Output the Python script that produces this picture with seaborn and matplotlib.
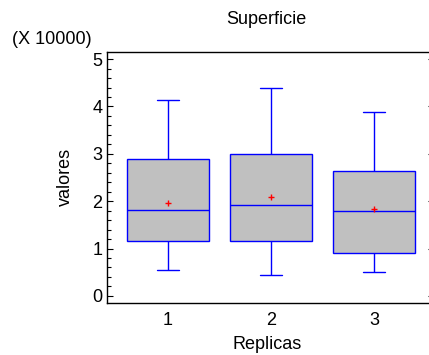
import numpy as np
import pandas as pd
import seaborn as sb
from matplotlib import pyplot as plt
from matplotlib.ticker import MultipleLocator, FuncFormatter

replicas = ['1', '2', '3']
lows = [5550, 4400, 5100]
q1s = [11600, 11500, 9150]
medians = [18100, 19200, 17900]
q3s = [28900, 30000, 26400]
highs = [41400, 43900, 38900]
means = [19600, 20950, 18400]

rows = []
for i, rep in enumerate(replicas):
    for v in (lows[i], q1s[i], medians[i], q3s[i], highs[i]):
        rows.append({'Replicas': rep, 'valores': v})
df = pd.DataFrame(rows)
df_means = pd.DataFrame({'Replicas': replicas, 'valores': means})

sb.set_style('ticks')
plt.rcParams['font.family'] = ['Liberation Sans', 'DejaVu Sans']
plt.rcParams['text.color'] = 'black'
plt.rcParams['axes.labelcolor'] = 'black'
plt.rcParams['xtick.color'] = 'black'
plt.rcParams['ytick.color'] = 'black'

fig = plt.figure(figsize=(4.29, 3.55), dpi=100)
ax = fig.add_axes([107 / 429, 1 - 302.5 / 355, 327 / 429, 250.5 / 355])

sb.boxplot(data=df, x='Replicas', y='valores', order=replicas, ax=ax,
           whis=(0, 100), width=0.8, color='#c0c0c0', linecolor='#0000ff',
           linewidth=1, saturation=1, showfliers=False)
sb.stripplot(data=df_means, x='Replicas', y='valores', order=replicas, ax=ax,
             jitter=False, marker='+', color='#ff0000', size=4.5, linewidth=1)

# shorter caps like the original
for line in ax.lines:
    xd = np.asarray(line.get_xdata(), dtype=float)
    yd = np.asarray(line.get_ydata(), dtype=float)
    if len(xd) == 2 and yd[0] == yd[1] and yd[0] in lows + highs:
        c = xd.mean()
        line.set_xdata([c - 0.105, c + 0.105])

ax.set_xlim(-0.59, 2.58)
ax.set_ylim(-1400, 51500)
ax.yaxis.set_major_locator(MultipleLocator(10000))
ax.yaxis.set_minor_locator(MultipleLocator(2000))
ax.yaxis.set_major_formatter(FuncFormatter(lambda v, p: '{:g}'.format(v / 10000)))

for s in ax.spines.values():
    s.set_visible(True)
    s.set_color('black')
    s.set_linewidth(1.0)

ax.tick_params(axis='y', which='both', direction='in', left=True, right=True,
               labelsize=13, pad=3.5, color='black', width=0.8)
ax.tick_params(axis='y', which='major', length=4.3)
ax.tick_params(axis='y', which='minor', length=2.7)
ax.tick_params(axis='x', length=0, labelsize=13, pad=6.5)

ax.set_xlabel('Replicas', fontsize=13)
ax.set_ylabel('valores', fontsize=13)
ax.xaxis.set_label_coords(0.49, -0.135)
ax.yaxis.set_label_coords(-0.10, 0.5)

fig.text(266 / 429, 1 - 24 / 355, 'Superficie', ha='center', va='baseline', fontsize=13)
fig.text(12 / 429, 1 - 44 / 355, '(X 10000)', ha='left', va='baseline', fontsize=13)

fig.savefig('out.png', dpi=100)
